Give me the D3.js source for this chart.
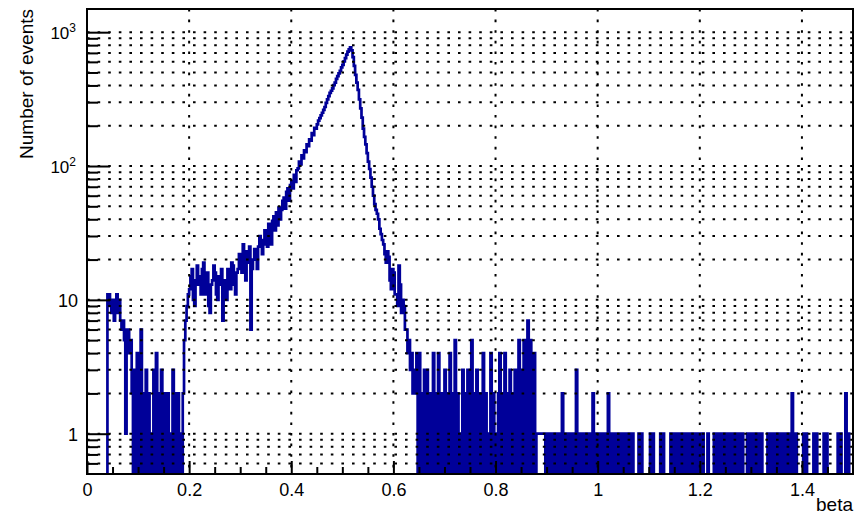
<!DOCTYPE html>
<html>
<head>
<meta charset="utf-8">
<script src="https://cdn.jsdelivr.net/npm/d3@7"></script>
<style>
body { margin: 0; background: #fff; }
text { font-family: "Liberation Sans", Arial, sans-serif; fill: #000; }
</style>
</head>
<body>
<script>
// beta histogram: 600 bins of 0.0025 from 0 to 1.5
const xMin = 0, xMax = 1.5, nBins = 600;

// bins 0-79 (0 .. 0.2)
const countsLow = [0, 0, 0, 0, 0, 0, 0, 0, 0, 0, 0, 0, 0, 0, 0, 0,
    11, 11, 9, 8, 10, 7, 9, 11, 8, 10, 7, 6,
    7, 5, 1, 6, 6, 4, 5, 2,
    0, 3, 0, 4, 1, 0, 6, 0, 2, 0, 3, 0, 2, 0, 1, 0, 3, 0, 4, 0,
    2, 0, 3, 1, 0, 2, 0, 2, 0, 1, 0, 3, 0, 2, 0, 2, 0, 1, 0, 2,
    5, 7, 9, 11];
// bins 80-257 (0.2 .. 0.645), the main peak
const countsPeak = [12, 15, 17, 10, 9, 14, 18, 13, 15, 11, 17, 19, 11, 14, 16, 9, 8, 13, 14, 18,
    16, 11, 10, 15, 13, 17, 7, 12, 14, 10, 17, 15, 12, 19, 18, 13, 11, 16, 17, 22,
    21, 16, 26, 20, 14, 23, 19, 25, 6, 17, 20, 24, 22, 17, 25, 30, 28, 22, 26, 33,
    30, 25, 37, 29, 26, 39, 42, 33, 45, 36, 49, 40, 47, 55, 58, 48, 64, 68, 55, 72,
    77, 68, 86, 76, 93, 96, 108, 103, 120, 114, 131, 127, 145, 141, 158, 155, 176, 170, 193, 190,
    205, 218, 228, 239, 250, 263, 276, 296, 315, 333, 352, 365, 380, 402, 420, 448, 470, 492, 515, 545,
    570, 605, 640, 680, 715, 745, 770, 730, 650, 560,
    480, 420, 370, 315, 270, 230, 190, 165, 145, 125, 108, 95, 82, 70, 60, 52, 47, 44, 40, 34,
    31, 28, 26, 22, 19, 23, 21, 14, 12, 17, 16, 11, 11, 9, 18, 13, 8, 10, 9, 6,
    6, 4, 5, 3, 4, 2, 2, 3];
// bins 258-359 (0.645 .. 0.9)
const countsMid = [4, 0, 4, 0, 2, 0, 3, 0, 3, 0,
    2, 1, 0, 4, 0, 2, 0, 4, 0, 2,
    0, 1, 3, 0, 2, 0, 4, 0, 2, 0,
    5, 0, 2, 0, 1, 0, 3, 0, 2, 0,
    3, 1, 0, 5, 0, 2, 0, 3, 0, 2,
    0, 2, 4, 0, 2, 0, 1, 0, 4, 0,
    2, 0, 1, 0, 2, 4, 0, 2, 0, 4,
    0, 2, 0, 3, 0, 2, 0, 3, 0, 2,
    5, 0, 3, 0, 5, 2, 0, 7, 0, 5,
    2, 0, 4, 0, 1, 1, 1, 1, 1, 1,
    1, 0];
// bins 360-599 (0.9 .. 1.5)
const countsTail = [1, 0, 1, 0, 0, 1, 0, 1, 0, 1, 0, 1, 2, 0, 1, 0, 1, 1, 0, 1,
    0, 1, 0, 3, 0, 1, 1, 0, 1, 0, 1, 0, 1, 0, 0, 1, 2, 0, 1, 0,
    1, 0, 1, 0, 1, 1, 0, 1, 2, 0, 1, 0, 1, 0, 1,
    0, 1, 0, 1, 0, 1, 1, 0, 1, 0, 1, 0, 1,
    0, 0, 0, 0, 1, 0, 1, 0, 0, 0, 0, 0, 0, 1, 0, 1, 0, 0, 0, 0, 0, 1, 0, 1, 0, 0, 0, 0, 0,
    1, 0, 1, 0, 1, 1, 0, 1, 0, 1, 0, 1, 0, 1, 0, 1, 0, 0, 1, 0, 1, 0, 1, 0, 1, 1,
    0, 0, 0, 1, 0, 0, 0, 0,
    1, 0, 1, 0, 1, 0, 1, 1, 0, 1, 0, 1, 0, 1, 0, 1, 0, 1, 1, 0, 1, 0, 1,
    0, 0, 0, 1, 0, 1, 0, 1, 1, 0, 1, 0, 1, 0, 1, 0, 0, 0, 0,
    1, 0, 1, 0, 1, 0, 1, 1, 0, 1, 0, 1, 0, 1, 0, 1, 0, 1,
    0, 2, 1, 0, 1, 0, 0, 0, 0, 0, 1, 0, 1, 0, 0, 0, 0, 0, 1, 0, 1, 0, 0, 0, 0, 0,
    1, 0, 1, 0, 0, 0, 0, 0, 0, 0, 0, 1, 0, 1, 0, 0, 0, 2, 0, 1, 0, 0, 0];

const xTicks = [0, 0.2, 0.4, 0.6, 0.8, 1, 1.2, 1.4];
const xMinorTicks = [0.05, 0.1, 0.15, 0.25, 0.3, 0.35, 0.45, 0.5, 0.55, 0.65, 0.7, 0.75,
    0.85, 0.9, 0.95, 1.05, 1.1, 1.15, 1.25, 1.3, 1.35, 1.45];
const yTicks = [1, 10, 100, 1000];
const yMinorTicks = [0.6, 0.7, 0.8, 0.9, 2, 3, 4, 5, 6, 7, 8, 9,
    20, 30, 40, 50, 60, 70, 80, 90, 200, 300, 400, 500, 600, 700, 800, 900];
const xTitle = "beta";
const yTitle = "Number of events";

class LogHist {
    constructor(width = 860, height = 516) {
        this.total_width = width;
        this.total_height = height;
        this.margin = { top: 9, right: 7, bottom: 42, left: 87 };
        this.graph_width = width - this.margin.left - this.margin.right;
        this.graph_height = height - this.margin.top - this.margin.bottom;
        this.counts = countsLow.concat(countsPeak, countsMid, countsTail);
        this.x = d3.scaleLinear().domain([xMin, xMax]).range([0, this.graph_width]);
        this.y = d3.scaleLog().domain([0.5, 1490]).range([this.graph_height, 0]);
    }

    construct_svg() {
        this.svg = d3.select("body").append("svg")
            .attr("width", this.total_width)
            .attr("height", this.total_height);
        this.g = this.svg.append("g")
            .attr("transform", "translate(" + this.margin.left + "," + this.margin.top + ")");
        this.g.append("clipPath").attr("id", "frame_clip")
            .append("rect")
            .attr("width", this.graph_width)
            .attr("height", this.graph_height);
    }

    construct_hist() {
        const w = (xMax - xMin) / nBins;
        const bottom = this.graph_height + 4;
        const pts = [];
        this.counts.forEach((c, i) => {
            const yy = c > 0 ? this.y(c) : bottom;
            pts.push([this.x(xMin + i * w), yy]);
            pts.push([this.x(xMin + (i + 1) * w), yy]);
        });
        this.g.append("path")
            .attr("clip-path", "url(#frame_clip)")
            .attr("d", d3.line()(pts))
            .attr("fill", "none")
            .attr("stroke", "#000099")
            .attr("stroke-width", 2.7);
    }

    construct_grid() {
        const grid = this.g.append("g").attr("class", "grid")
            .attr("stroke", "#000")
            .attr("stroke-width", 2)
            .attr("stroke-dasharray", "2.6,8");
        grid.selectAll(".hgrid")
            .data(yTicks.concat(yMinorTicks))
            .enter().append("line")
            .attr("x1", 0).attr("x2", this.graph_width)
            .attr("y1", d => this.y(d)).attr("y2", d => this.y(d));
        grid.selectAll(".vgrid")
            .data(xTicks.filter(d => d > 0))
            .enter().append("line")
            .attr("y1", 0).attr("y2", this.graph_height)
            .attr("x1", d => this.x(d)).attr("x2", d => this.x(d));
    }

    construct_axes() {
        const h = this.graph_height;
        // x axis, ticks pointing into the frame
        const xa = this.g.append("g")
            .attr("transform", "translate(0," + h + ")")
            .call(d3.axisBottom(this.x).tickValues(xTicks).tickSizeInner(-13).tickSizeOuter(0)
                .tickPadding(9).tickFormat(d3.format("")));
        this.g.append("g")
            .attr("transform", "translate(0," + h + ")")
            .call(d3.axisBottom(this.x).tickValues(xMinorTicks).tickSizeInner(-7).tickSizeOuter(0)
                .tickFormat(""));

        // y axis, log
        const ya = this.g.append("g")
            .call(d3.axisLeft(this.y).tickValues(yTicks).tickSizeInner(-23).tickSizeOuter(0)
                .tickPadding(9).tickFormat(d => String(d)));
        this.g.append("g")
            .call(d3.axisLeft(this.y).tickValues(yMinorTicks).tickSizeInner(-11).tickSizeOuter(0)
                .tickFormat(""));

        this.g.selectAll(".domain").remove();
        this.g.selectAll(".tick line").attr("stroke", "#000").attr("stroke-width", 2);
        xa.selectAll(".tick text").attr("font-size", "18px");
        ya.selectAll(".tick text").attr("font-size", "18px").attr("dy", "0.38em")
            .each(function (d) {
                const e = Math.round(Math.log10(d));
                if (e >= 2) {
                    const t = d3.select(this).text(null).attr("font-size", "17px").attr("x", -11);
                    t.append("tspan").text("10");
                    t.append("tspan").attr("dy", "-0.6em").attr("font-size", "12px").text(e);
                }
            });

        // frame
        this.g.append("rect")
            .attr("width", this.graph_width)
            .attr("height", h)
            .attr("fill", "none")
            .attr("stroke", "#000")
            .attr("stroke-width", 2);

        // titles
        this.g.append("text")
            .attr("x", this.graph_width)
            .attr("y", h + 37)
            .attr("text-anchor", "end")
            .attr("font-size", "19px")
            .text(xTitle);
        this.g.append("text")
            .attr("transform", "translate(" + (33 - this.margin.left) + ",0) rotate(-90)")
            .attr("text-anchor", "end")
            .attr("font-size", "19px")
            .text(yTitle);
    }
}

const chart = new LogHist();
chart.construct_svg();
chart.construct_hist();
chart.construct_grid();
chart.construct_axes();
</script>
</body>
</html>
